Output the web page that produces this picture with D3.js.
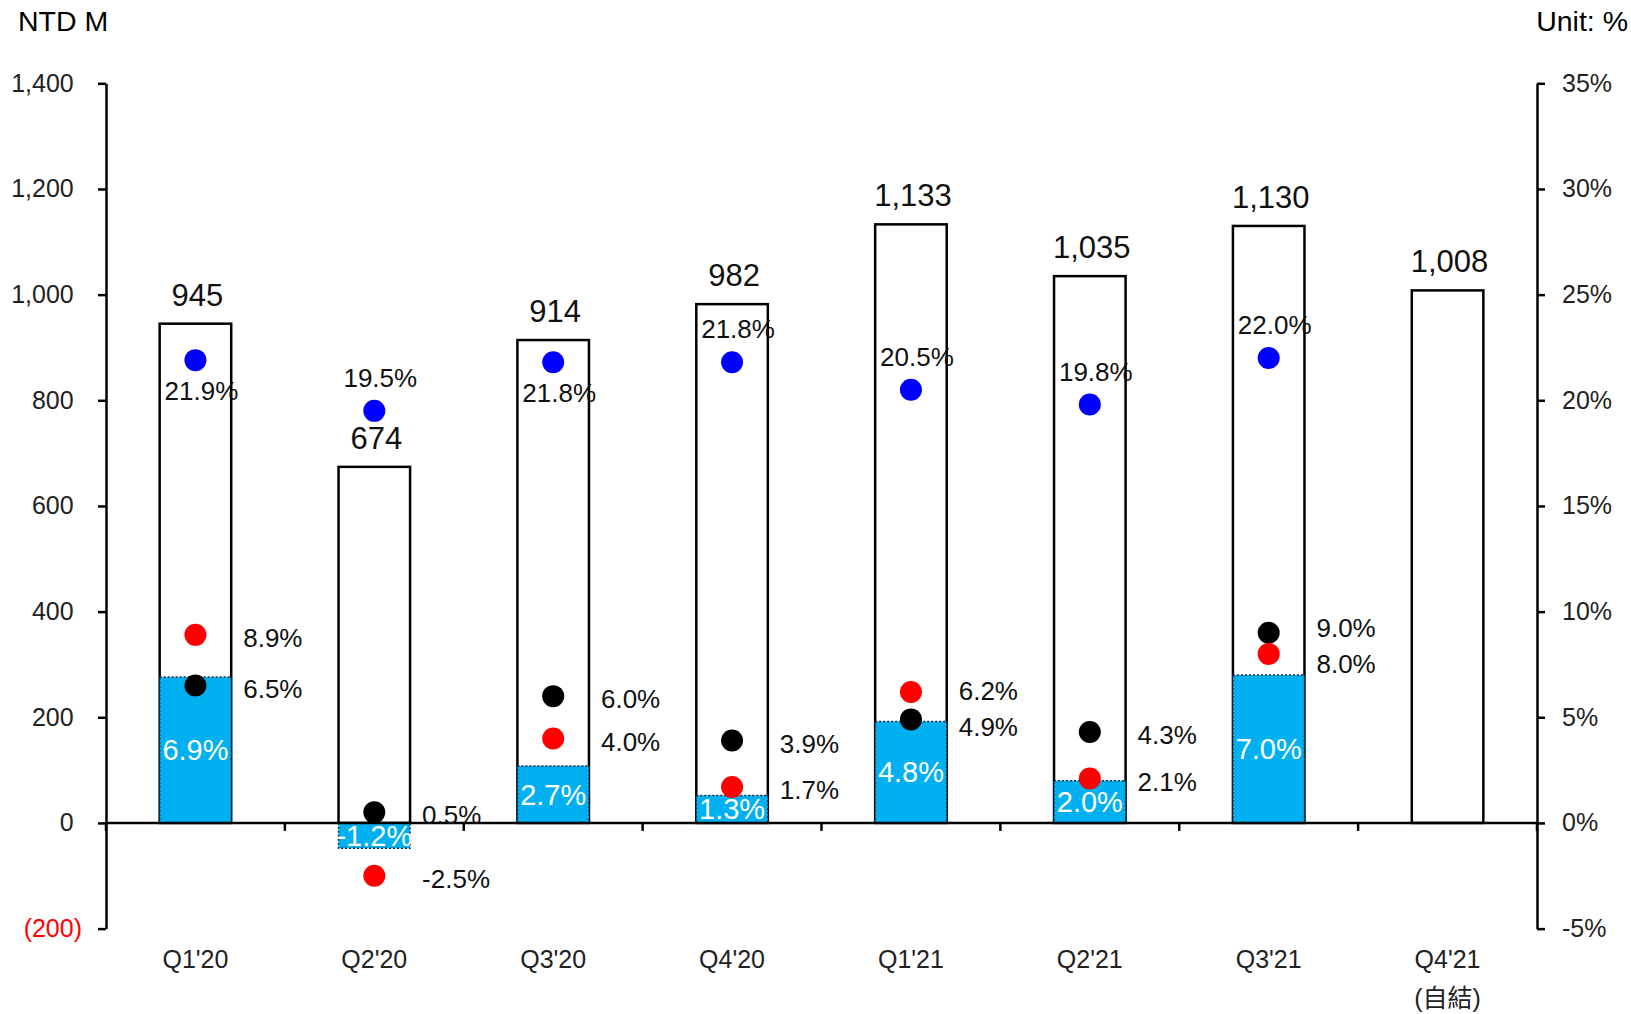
<!DOCTYPE html>
<html>
<head>
<meta charset="utf-8">
<script src="https://cdn.jsdelivr.net/npm/d3@7"></script>
<style>
body { margin: 0; background: #fff; }
svg { display: block; font-family: "Liberation Sans", Arial, "Noto Sans CJK TC", sans-serif; }
</style>
</head>
<body>
<svg id="chart" width="1631" height="1014"></svg>
<script>
var categories = ["Q1'20", "Q2'20", "Q3'20", "Q4'20", "Q1'21", "Q2'21", "Q3'21", "Q4'21"];
var categoryNotes = ["", "", "", "", "", "", "", "(自結)"];
var revenue = [945, 674, 914, 982, 1133, 1035, 1130, 1008];
var grossMargin = [21.9, 19.5, 21.8, 21.8, 20.5, 19.8, 22.0, null];
var operatingMargin = [6.9, -1.2, 2.7, 1.3, 4.8, 2.0, 7.0, null];
var pretaxMargin = [6.5, 0.5, 6.0, 3.9, 4.9, 4.3, 9.0, null];
var netMargin = [8.9, -2.5, 4.0, 1.7, 6.2, 2.1, 8.0, null];
var leftTicks = [-200, 0, 200, 400, 600, 800, 1000, 1200, 1400];
var rightTicks = [-5, 0, 5, 10, 15, 20, 25, 30, 35];
// gross margin labels that sit under their dot instead of above
var grossLabelBelow = ["Q1'20", "Q3'20"];

var locale = d3.formatLocale({decimal: ".", thousands: ",", grouping: [3], currency: ["", ""], minus: "-"});

var svg = d3.select("#chart"),
  plot = {left: 106, right: 1537, top: 83.3, bottom: 928.6},
  x = d3.scaleBand().domain(categories).range([plot.left, plot.right]),
  y = d3.scaleLinear().domain([-200, 1400]).range([plot.bottom, plot.top]),
  yPct = d3.scaleLinear().domain([-5, 35]).range([plot.bottom, plot.top]),
  barWidth = x.bandwidth() * 0.4,
  cx = function(c) { return x(c) + x.bandwidth() / 2; },
  fmtPct = locale.format(".1f"),
  fmtNum = locale.format(","),
  pct = function(v) { return fmtPct(v) + "%"; },
  rows = categories.map(function(c, i) {
    return {
      cat: c,
      note: categoryNotes[i],
      revenue: revenue[i],
      gross: grossMargin[i],
      op: operatingMargin[i],
      pretax: pretaxMargin[i],
      net: netMargin[i]
    };
  }),
  withMargins = rows.filter(function(d) { return d.gross !== null; });

// header texts
svg.append("text")
  .attr("x", 18).attr("y", 31)
  .attr("font-size", 28.5)
  .text("NTD M");
svg.append("text")
  .attr("x", 1628).attr("y", 31)
  .attr("font-size", 28.5)
  .attr("text-anchor", "end")
  .text("Unit: %");

// revenue bars (outline)
svg.append("g").selectAll("rect")
  .data(rows)
  .enter().append("rect")
    .attr("x", function(d) { return cx(d.cat) - barWidth / 2; })
    .attr("y", function(d) { return y(d.revenue); })
    .attr("width", barWidth)
    .attr("height", function(d) { return y(0) - y(d.revenue); })
    .attr("fill", "#fff")
    .attr("stroke", "#000")
    .attr("stroke-width", 2.5);

// operating margin bars
svg.append("g").selectAll("rect")
  .data(withMargins)
  .enter().append("rect")
    .attr("x", function(d) { return cx(d.cat) - barWidth / 2; })
    .attr("y", function(d) { return Math.min(yPct(d.op), yPct(0)); })
    .attr("width", barWidth)
    .attr("height", function(d) { return Math.abs(yPct(0) - yPct(d.op)); })
    .attr("fill", "#00b0f0")
    .attr("stroke", "#1a2a40")
    .attr("stroke-width", 1.5)
    .attr("stroke-dasharray", "2,2");

svg.append("g").selectAll("text")
  .data(withMargins)
  .enter().append("text")
    .attr("x", function(d) { return cx(d.cat); })
    .attr("y", function(d) { return (yPct(d.op) + yPct(0)) / 2; })
    .attr("dy", "0.35em")
    .attr("text-anchor", "middle")
    .attr("font-size", 29)
    .attr("fill", "#fff")
    .text(function(d) { return pct(d.op); });

// revenue labels
svg.append("g").selectAll("text")
  .data(rows)
  .enter().append("text")
    .attr("x", function(d) { return cx(d.cat) + 2; })
    .attr("y", function(d) { return y(d.revenue) - 18; })
    .attr("text-anchor", "middle")
    .attr("font-size", 31)
    .attr("fill", "#111")
    .text(function(d) { return fmtNum(d.revenue); });

// left axis
var leftAxis = svg.append("g")
  .attr("transform", "translate(" + plot.left + ",0)")
  .call(d3.axisLeft(y)
    .tickValues(leftTicks)
    .tickSize(8)
    .tickSizeOuter(0)
    .tickPadding(16)
    .tickFormat(function(d) { return d < 0 ? "(" + fmtNum(-d) + ")" : fmtNum(d); }));

leftAxis.selectAll("text")
  .attr("font-size", 25)
  .attr("font-family", null)
  .attr("fill", function(d) { return d < 0 ? "#ff0000" : "#222"; })
  .attr("dx", function(d) { return d < 0 ? 0 : "-0.333em"; });

// right axis
var rightAxis = svg.append("g")
  .attr("transform", "translate(" + plot.right + ",0)")
  .call(d3.axisRight(yPct)
    .tickValues(rightTicks)
    .tickSize(8)
    .tickSizeOuter(0)
    .tickPadding(17)
    .tickFormat(function(d) { return d + "%"; }));

rightAxis.selectAll("text")
  .attr("font-size", 25)
  .attr("font-family", null)
  .attr("fill", "#222");

svg.selectAll(".domain, .tick line")
  .attr("stroke", "#000")
  .attr("stroke-width", 2.5);

// category axis at zero
var xAxis = svg.append("g");
xAxis.append("line")
  .attr("x1", plot.left).attr("x2", plot.right)
  .attr("y1", y(0)).attr("y2", y(0))
  .attr("stroke", "#000")
  .attr("stroke-width", 2.5);
xAxis.selectAll(".xtick")
  .data(d3.range(categories.length + 1))
  .enter().append("line")
    .attr("class", "xtick")
    .attr("x1", function(i) { return plot.left + i * x.step(); })
    .attr("x2", function(i) { return plot.left + i * x.step(); })
    .attr("y1", y(0)).attr("y2", y(0) + 8)
    .attr("stroke", "#000")
    .attr("stroke-width", 2.5);

xAxis.selectAll(".xlabel")
  .data(rows)
  .enter().append("text")
    .attr("class", "xlabel")
    .attr("x", function(d) { return cx(d.cat); })
    .attr("y", y(-200) + 39)
    .attr("text-anchor", "middle")
    .attr("font-size", 25)
    .attr("fill", "#222")
    .text(function(d) { return d.cat; });

xAxis.selectAll(".xnote")
  .data(rows.filter(function(d) { return d.note; }))
  .enter().append("text")
    .attr("class", "xnote")
    .attr("x", function(d) { return cx(d.cat); })
    .attr("y", y(-200) + 78)
    .attr("text-anchor", "middle")
    .attr("font-size", 25)
    .attr("fill", "#222")
    .text(function(d) { return d.note; });

// dots
var dotSeries = [
  {key: "gross", color: "#0000ff"},
  {key: "pretax", color: "#000"},
  {key: "net", color: "#ff0000"}
];

dotSeries.forEach(function(s) {
  svg.append("g").selectAll("circle")
    .data(withMargins)
    .enter().append("circle")
      .attr("cx", function(d) { return cx(d.cat); })
      .attr("cy", function(d) { return yPct(d[s.key]); })
      .attr("r", 11)
      .attr("fill", s.color);
});

// gross margin labels
svg.append("g").selectAll("text")
  .data(withMargins)
  .enter().append("text")
    .attr("x", function(d) { return cx(d.cat) + 6; })
    .attr("y", function(d) {
      return yPct(d.gross) + (grossLabelBelow.indexOf(d.cat) >= 0 ? 31 : -33);
    })
    .attr("dy", "0.35em")
    .attr("text-anchor", "middle")
    .attr("font-size", 26)
    .attr("fill", "#111")
    .text(function(d) { return pct(d.gross); });

// pretax / net labels right of the bar, pushed apart when they crowd
var sideLabels = [];
withMargins.forEach(function(d) {
  var pair = [
    {cat: d.cat, v: d.pretax, y: yPct(d.pretax) + 3},
    {cat: d.cat, v: d.net, y: yPct(d.net) + 3}
  ].sort(function(a, b) { return a.y - b.y; });
  var gap = pair[1].y - pair[0].y, minGap = 36;
  if (gap < minGap) {
    var mid = (pair[0].y + pair[1].y) / 2;
    pair[0].y = mid - minGap / 2;
    pair[1].y = mid + minGap / 2;
  }
  sideLabels = sideLabels.concat(pair);
});

svg.append("g").selectAll("text")
  .data(sideLabels)
  .enter().append("text")
    .attr("x", function(d) { return cx(d.cat) + barWidth / 2 + 12; })
    .attr("y", function(d) { return d.y; })
    .attr("dy", "0.35em")
    .attr("font-size", 26)
    .attr("fill", "#111")
    .text(function(d) { return pct(d.v); });
</script>
</body>
</html>
